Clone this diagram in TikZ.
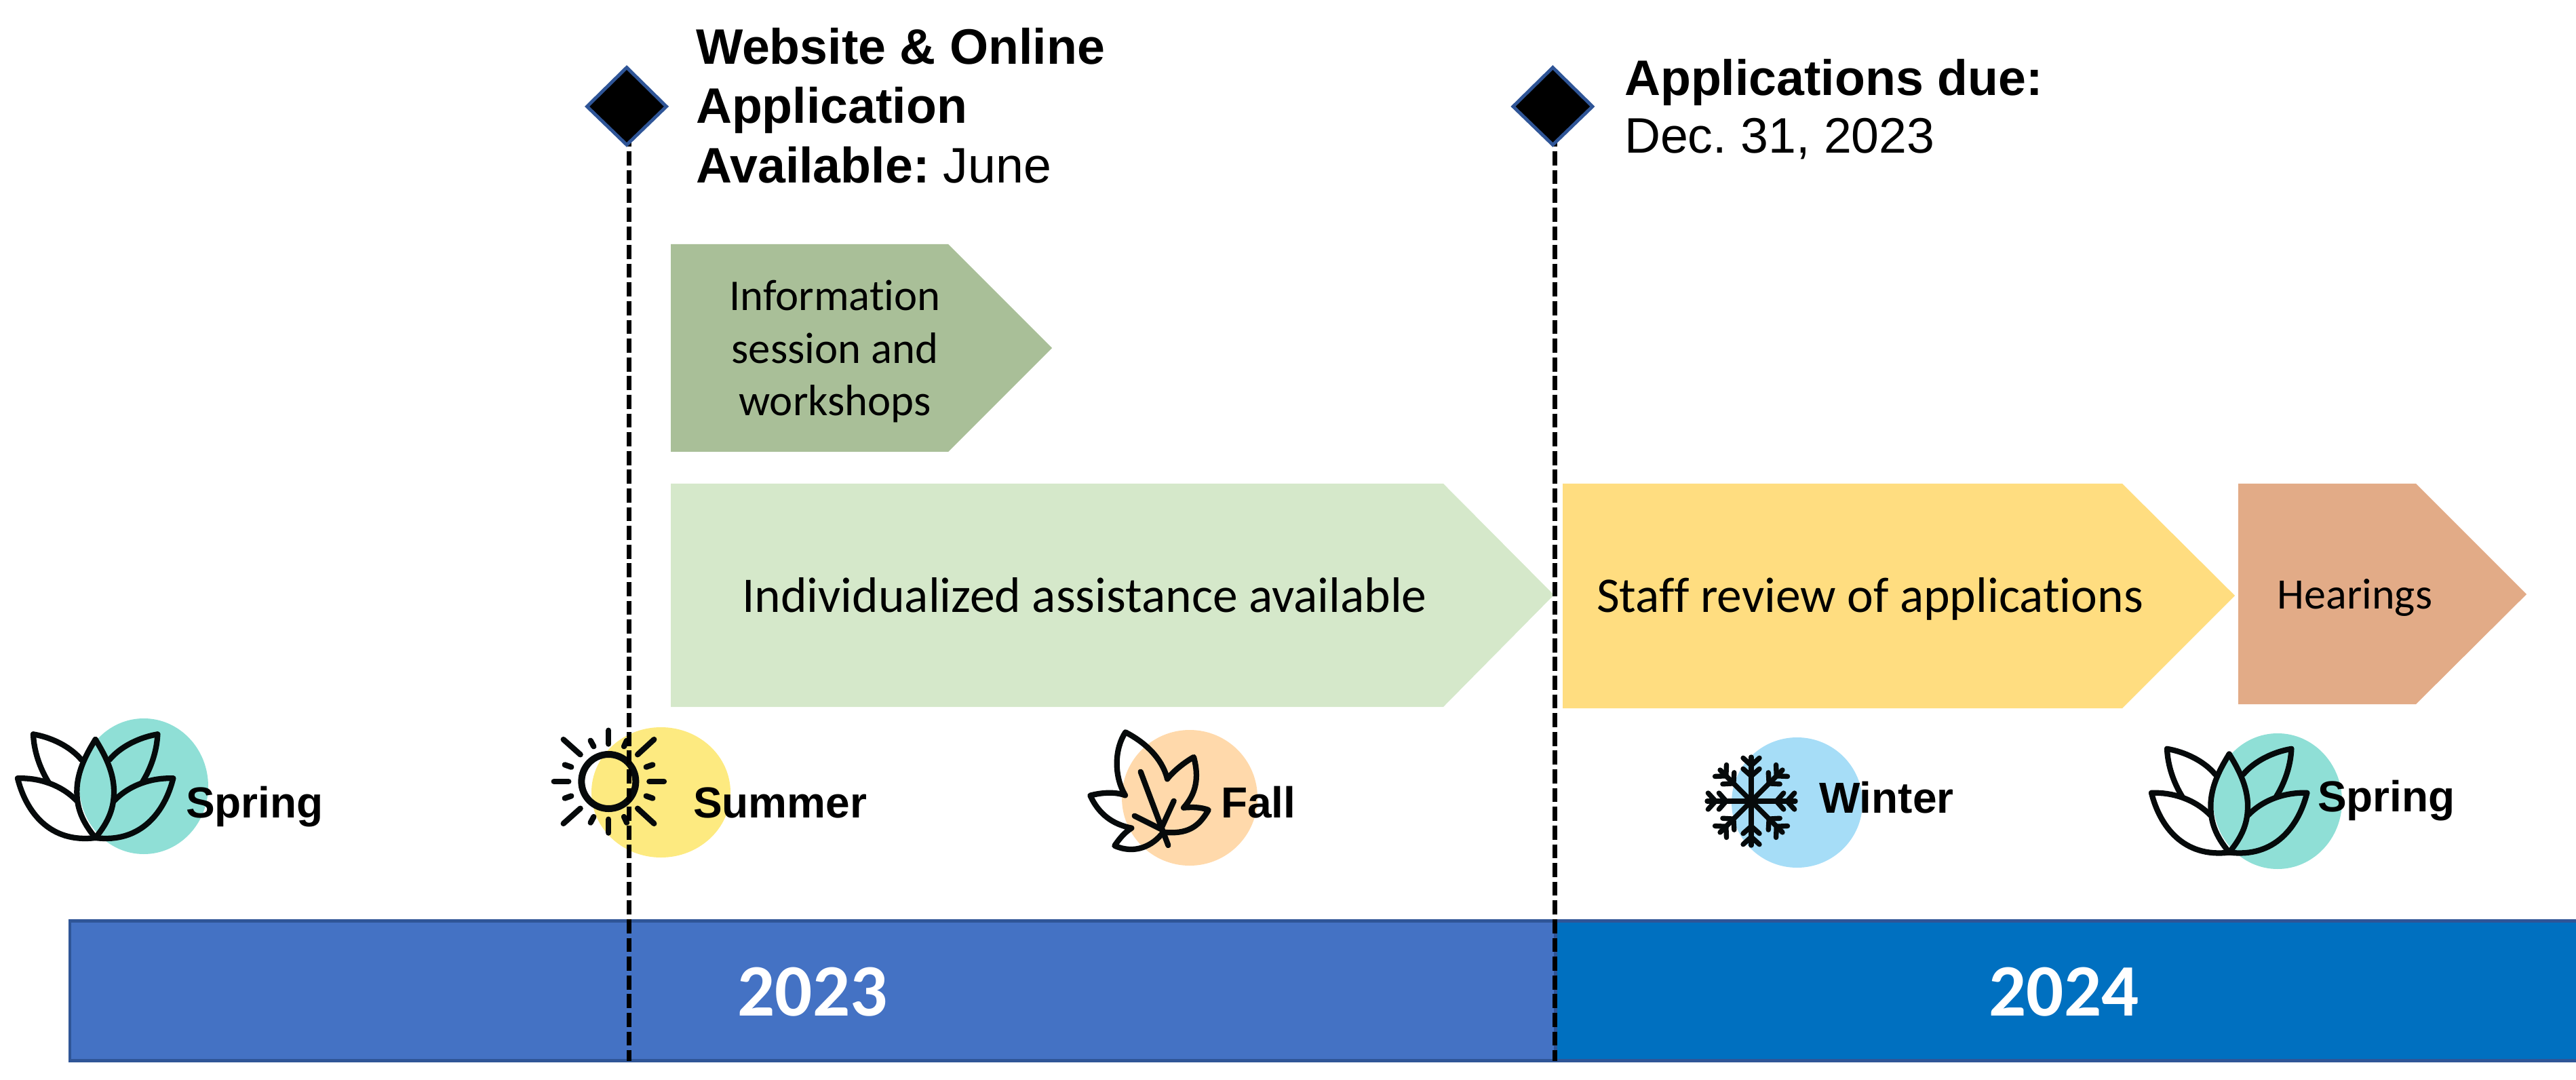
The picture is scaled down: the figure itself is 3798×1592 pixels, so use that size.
\documentclass[tikz,border=0pt]{standalone}
\usepackage{fontspec}
\setmainfont{Liberation Sans}
\newfontfamily\bodyfont[Ligatures=NoCommon]{Carlito}
\definecolor{iconink}{HTML}{060A0B}
\definecolor{markerblue}{HTML}{2F5597}
\definecolor{bara}{HTML}{4472C4}
\definecolor{barb}{HTML}{0070C0}
\definecolor{barline}{HTML}{2F5597}
\definecolor{sage}{HTML}{A9BF98}
\definecolor{lightgreen}{HTML}{D5E8CA}
\definecolor{gold}{HTML}{FFDD80}
\definecolor{clay}{HTML}{E2AB87}
\definecolor{teal}{HTML}{8FDFD6}
\definecolor{sunny}{HTML}{FDEA80}
\definecolor{peach}{HTML}{FFD9AB}
\definecolor{sky}{HTML}{A6DDF7}
\tikzset{
 icon/.style={draw=iconink,line width=2.35pt,line cap=round,line join=round},
 plain/.style={inner sep=0,outer sep=0},
 seasonlabel/.style={plain,anchor=base west,font=\fontsize{18.2}{20}\selectfont\bfseries},
 phasetext/.style={plain,font=\bodyfont\fontsize{18.4}{22}\selectfont,align=center},
 widephase/.style={plain,anchor=base,font=\bodyfont\fontsize{20.9}{24}\selectfont},
 headtext/.style={plain,anchor=north west,font=\fontsize{20.9}{24.9}\selectfont,align=left},
 yeartext/.style={plain,anchor=base,text=white,font=\bodyfont\fontsize{31}{32}\selectfont\bfseries},
 marker/.style={draw=markerblue,fill=black,line width=1.4pt,line join=miter},
 guide/.style={draw=black,line width=2pt,dash pattern=on 5.9pt off 1.95pt}
}
\newcommand{\lotushalf}{%
  \draw[icon] (147,187) .. controls (225,200) and (310,240) .. (360,300);
  \draw[icon] (147,187) .. controls (150,260) and (175,335) .. (215,400);
  \draw[icon] (78,382) .. controls (170,378) and (270,410) .. (338,480);
  \draw[icon] (78,382) .. controls (115,530) and (220,670) .. (422,645);
  \draw[icon] (422,645) .. controls (360,570) and (340,510) .. (340,440) .. controls (340,350) and (385,270) .. (422,210);
}
\newcommand{\lotusicon}[2]{%
 \begin{scope}[shift={(#1,#2)},x=0.01cm/3,y=-0.01cm/3]
  \lotushalf
  \begin{scope}[xscale=-1,shift={(-844,0)}]\lotushalf\end{scope}
 \end{scope}}
\begin{document}
\frenchspacing
\begin{tikzpicture}[x=0.01cm,y=-0.01cm]
\useasboundingbox (0,0) rectangle (3798,1592);
% bars
\draw[barline,fill=bara,line width=1.42pt] (103,1357.5) rectangle (2293,1563.5);
\draw[barline,fill=barb,line width=1.42pt] (2293,1357.5) rectangle (3800,1563.5);
\node[yeartext] (y23) at (1198,1497) {2023};
\node[yeartext] (y24) at (3043,1497) {2024};
% phases
\fill[sage] (989,360) -- (1398,360) -- (1551,513) -- (1398,666) -- (989,666) -- cycle;
\node[phasetext] (p1) at (1231,518) {Information\\session and\\workshops};
\fill[lightgreen] (989,713) -- (2128,713) -- (2291,877) -- (2128,1042) -- (989,1042) -- cycle;
\node[widephase] (p2) at (1599,902) {Individualized assistance available};
\fill[gold] (2304,713) -- (3129,713) -- (3295,878) -- (3129,1044) -- (2304,1044) -- cycle;
\node[widephase] (p3) at (2757,902) {Staff review of applications};
\fill[clay] (3300,713) -- (3562,713) -- (3725,876) -- (3562,1038) -- (3300,1038) -- cycle;
\node[widephase,font=\bodyfont\fontsize{18.2}{22}\selectfont] (p4) at (3472,897) {Hearings};
% discs
\fill[teal] (212,1159) ellipse (95 and 100);
\fill[sunny] (974.5,1168) ellipse (102.5 and 96);
\fill[peach] (1754,1176) circle (100);
\fill[sky] (2649.5,1183) ellipse (96.5 and 96);
\fill[teal] (3358,1181) ellipse (95 and 100);
% lotus 1
\lotusicon{0}{1020}
% sun
\begin{scope}[shift={(780,1040)},x=0.01cm/3,y=-0.01cm/3]
 \draw[icon,line width=2.85pt] (352,336) circle (120);
 \foreach \a/\b/\c/\d in {352/110/352/170,352/503/352/563,110/336/175/336,532/336/597/336,
   152/150/227/217,553/150/480/217,152/522/227/455,553/522/480/455,
   272/155/286/181,432/155/420/181,272/518/286/492,432/518/420/492,
   158/262/187/272,547/262/518/272,158/410/187/400,547/410/518/400}
   {\draw[icon] (\a,\b) -- (\c,\d);}
\end{scope}
% leaf
\begin{scope}[shift={(1560,1040)},x=0.01cm/3,y=-0.01cm/3]
 \draw[icon] (298,118) .. controls (380,160) and (460,230) .. (483,325)
   .. controls (510,290) and (560,250) .. (600,228)
   .. controls (625,320) and (610,390) .. (555,452)
   .. controls (595,448) and (635,450) .. (665,462)
   .. controls (620,540) and (570,570) .. (465,560)
   .. controls (420,620) and (340,660) .. (250,620)
   .. controls (270,590) and (295,560) .. (325,542)
   .. controls (240,525) and (180,480) .. (142,398)
   .. controls (190,385) and (250,380) .. (297,397)
   .. controls (245,310) and (250,190) .. cycle;
 \draw[icon] (365,293) -- (487,618);
 \draw[icon] (512,422) -- (458,540);
 \draw[icon] (338,488) -- (458,548);
\end{scope}
% snowflake
\begin{scope}[shift={(2450,1060)},x=0.01cm/3,y=-0.01cm/3]
 \foreach \r in {0,45,...,315}{%
 \begin{scope}[shift={(396,363)},rotate=\r]
  \draw[icon,line width=2.1pt] (0,0) -- (0,-195);
  \draw[icon,line width=2.1pt] (-36,-143) -- (0,-111) -- (36,-143);
  \draw[icon,line width=2.1pt] (-36,-191) -- (0,-158) -- (36,-191);
 \end{scope}}
\end{scope}
% lotus 2
\lotusicon{3146}{1041.5}
% guides
\coordinate (g1t) at (927.3,195.5); \coordinate (g1b) at (927.3,1564);
\coordinate (g2t) at (2292.7,195.5); \coordinate (g2b) at (2292.7,1564);
\draw[guide] (g1t) -- (g1b);
\draw[guide] (g2t) -- (g2b);
\draw[marker] (924,99.5) -- (982.5,157) -- (924,213.5) -- (865.5,157) -- cycle;
\draw[marker] (2289.4,99.5) -- (2347.9,157) -- (2289.4,213.5) -- (2230.9,157) -- cycle;
% heads
\node[headtext] (h1) at (1026,41) {\textbf{Website \& Online}\\\textbf{Application}\\\textbf{Available:} June};
\node[headtext,font=\fontsize{20.9}{24.2}\selectfont] (h2) at (2395,87) {\textbf{Applications due:}\\Dec. 31, 2023};
% season labels
\node[seasonlabel] (s1) at (274,1205) {Spring};
\node[seasonlabel] (s2) at (1022,1205) {Summer};
\node[seasonlabel] (s3) at (1800,1205) {Fall};
\node[seasonlabel] (s4) at (2682,1198) {Winter};
\node[seasonlabel] (s5) at (3417,1196) {Spring};
\end{tikzpicture}
\end{document}
